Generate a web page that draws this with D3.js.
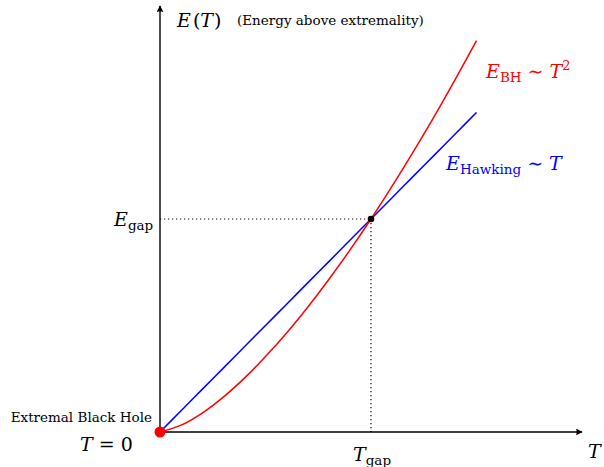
<!DOCTYPE html>
<html>
<head>
<meta charset="utf-8">
<script src="https://cdn.jsdelivr.net/npm/d3@7/dist/d3.min.js"></script>
<style>
  html, body { margin: 0; padding: 0; background: #fff; }
  svg text { font-family: "DejaVu Serif", "Liberation Serif", serif; }
</style>
</head>
<body>
<svg id="chart" width="604" height="467"></svg>
<script>
// Temperature samples (units of T_gap)
const temps = [0, 0.1, 0.2, 0.3, 0.4, 0.5, 0.6, 0.7, 0.8, 0.9, 1.0, 1.1, 1.2, 1.3, 1.4, 1.5];
// Black-hole energy above extremality (units of E_gap)
const energyBH = [0, 0.032, 0.089, 0.164, 0.253, 0.354, 0.465, 0.586, 0.716, 0.854, 1.0, 1.154, 1.315, 1.482, 1.657, 1.837];
// Hawking radiation energy (units of E_gap)
const energyHawking = [0, 0.1, 0.2, 0.3, 0.4, 0.5, 0.6, 0.7, 0.8, 0.9, 1.0, 1.1, 1.2, 1.3, 1.4, 1.5];
// Crossing point
const gapT = [1.0];
const gapE = [1.0];

const svg = d3.select("#chart");
const x = d3.scaleLinear().domain([0, 2]).range([160, 582]);
const y = d3.scaleLinear().domain([0, 2]).range([432, 6]);

// arrowhead marker
const defs = svg.append("defs");
defs.append("marker")
  .attr("id", "arrow")
  .attr("viewBox", "0 0 10 10")
  .attr("refX", 9).attr("refY", 5)
  .attr("markerWidth", 7).attr("markerHeight", 7)
  .attr("markerUnits", "userSpaceOnUse")
  .attr("orient", "auto")
  .append("path")
  .attr("d", "M0,0 L10,5 L0,10 Q3,5 0,0 Z")
  .attr("fill", "#000");

// axes
svg.append("line")
  .attr("x1", x(0)).attr("y1", y(0))
  .attr("x2", x(2)).attr("y2", y(0))
  .attr("stroke", "#000").attr("stroke-width", 1.4)
  .attr("marker-end", "url(#arrow)");
svg.append("line")
  .attr("x1", x(0)).attr("y1", y(0))
  .attr("x2", x(0)).attr("y2", y(2))
  .attr("stroke", "#000").attr("stroke-width", 1.4)
  .attr("marker-end", "url(#arrow)");

// dotted guides to the crossing
svg.append("line")
  .attr("x1", x(0)).attr("y1", y(gapE[0]))
  .attr("x2", x(gapT[0])).attr("y2", y(gapE[0]))
  .attr("stroke", "#000").attr("stroke-width", 1.2)
  .attr("stroke-dasharray", "1.2,2.8");
svg.append("line")
  .attr("x1", x(gapT[0])).attr("y1", y(gapE[0]))
  .attr("x2", x(gapT[0])).attr("y2", y(0))
  .attr("stroke", "#000").attr("stroke-width", 1.2)
  .attr("stroke-dasharray", "1.2,2.8");

const line = d3.line()
  .x(d => x(d[0]))
  .y(d => y(d[1]))
  .curve(d3.curveCatmullRom);

svg.append("path")
  .datum(temps.map((t, i) => [t, energyHawking[i]]))
  .attr("d", line)
  .attr("fill", "none").attr("stroke", "#0000ff").attr("stroke-width", 1.5);

svg.append("path")
  .datum(temps.map((t, i) => [t, energyBH[i]]))
  .attr("d", line)
  .attr("fill", "none").attr("stroke", "#ff0000").attr("stroke-width", 1.5);

// points
svg.append("circle")
  .attr("cx", x(gapT[0])).attr("cy", y(gapE[0])).attr("r", 3.3)
  .attr("fill", "#000");
svg.append("circle")
  .attr("cx", x(0)).attr("cy", y(0)).attr("r", 5.5)
  .attr("fill", "#ff0000");

// labels
function mathLabel(xp, yp, parts, color, anchor) {
  const t = svg.append("text")
    .attr("x", xp).attr("y", yp)
    .attr("fill", color || "#000")
    .attr("text-anchor", anchor || "start");
  parts.forEach(p => {
    const s = t.append("tspan").text(p.text)
      .attr("font-size", p.size || 19);
    if (p.italic) s.attr("font-style", "italic");
    if (p.dy) s.attr("dy", p.dy);
    if (p.dx) s.attr("dx", p.dx);
  });
  return t;
}

mathLabel(177, 27, [
  {text: "E", italic: true}, {text: "(", dx: 2}, {text: "T", italic: true}, {text: ")", dx: 1}
]);
svg.append("text").attr("x", 237).attr("y", 25)
  .attr("font-size", 13.5).text("(Energy above extremality)");

mathLabel(486, 78, [
  {text: "E", italic: true},
  {text: "BH", size: 13.5, dy: 4},
  {text: " ∼ ", dy: -4},
  {text: "T", italic: true},
  {text: "2", size: 13, dy: -8}
], "#ff0000");

mathLabel(446, 170, [
  {text: "E", italic: true},
  {text: "Hawking", size: 13.5, dy: 4},
  {text: " ∼ ", dy: -4},
  {text: "T", italic: true}
], "#0000ff");

mathLabel(114, 226, [
  {text: "E", italic: true},
  {text: "gap", size: 13.5, dy: 4}
]);

mathLabel(353, 461, [
  {text: "T", italic: true},
  {text: "gap", size: 13.5, dy: 4}
]);

mathLabel(588, 458, [{text: "T", italic: true}]);

svg.append("text").attr("x", 152).attr("y", 422)
  .attr("text-anchor", "end").attr("font-size", 13.5)
  .text("Extremal Black Hole");

mathLabel(80, 451, [
  {text: "T", italic: true}, {text: " = 0"}
]);
</script>
</body>
</html>
